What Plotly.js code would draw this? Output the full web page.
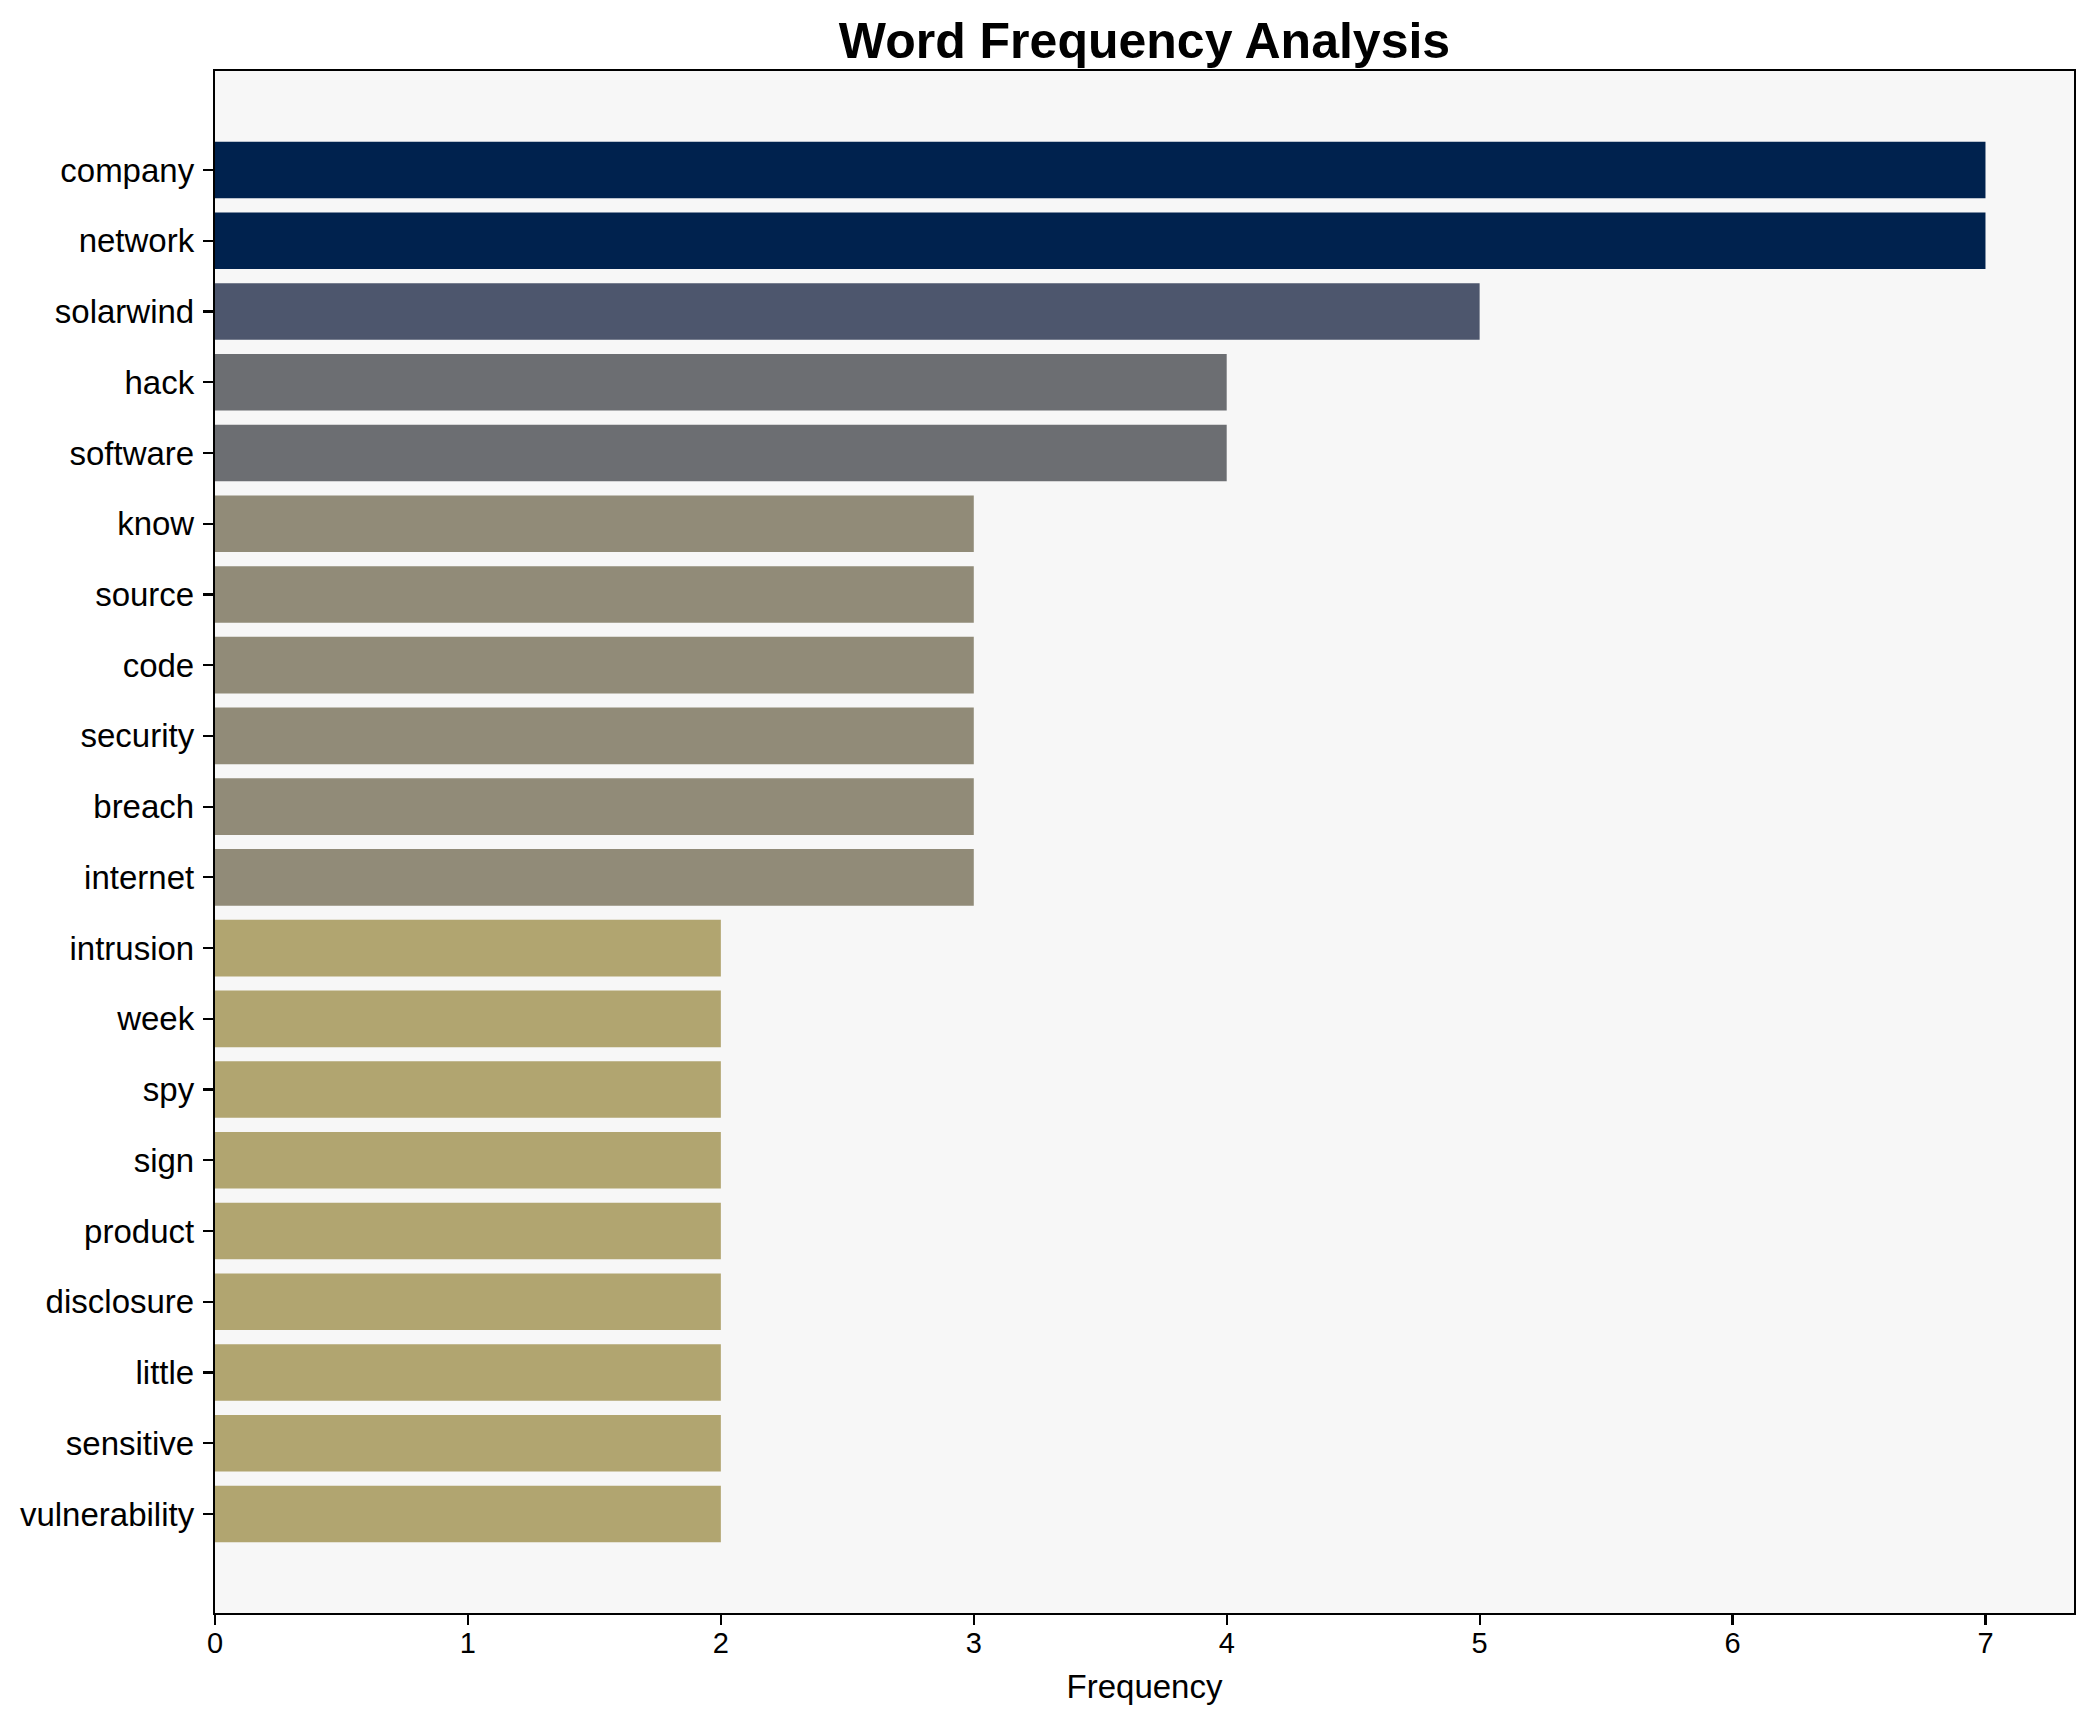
<!DOCTYPE html>
<html>
<head>
<meta charset="utf-8">
<script src="https://cdn.plot.ly/plotly-3.0.1.min.js"></script>
<style>html,body{margin:0;padding:0;background:#fff;}#chart{width:2095px;height:1722px;}</style>
</head>
<body>
<div id="chart"></div>
<script>
const words = ["company","network","solarwind","hack","software","know","source","code","security","breach","internet","intrusion","week","spy","sign","product","disclosure","little","sensitive","vulnerability"];
const frequencies = [7,7,5,4,4,3,3,3,3,3,3,2,2,2,2,2,2,2,2,2];
const colorByFrequency = {7:"#00224e",5:"#4d566d",4:"#6c6e72",3:"#918b78",2:"#b1a570"};
const xTickValues = [0,1,2,3,4,5,6,7];

const FONT = "Liberation Sans, Arial, Helvetica, sans-serif";

const trace = {
  type: "bar",
  orientation: "h",
  x: frequencies,
  y: words,
  width: 0.8,
  marker: {color: frequencies.map(f => colorByFrequency[f]), line: {width: 0}},
  hoverinfo: "x+y"
};

const layout = {
  width: 2095,
  height: 1722,
  margin: {l: 215, r: 21, t: 71, b: 109},
  paper_bgcolor: "#ffffff",
  plot_bgcolor: "#f7f7f7",
  showlegend: false,
  font: {family: FONT, color: "#000000", size: 33},
  title: {
    text: "<b>Word Frequency Analysis</b>",
    font: {family: FONT, size: 50, color: "#000000"},
    x: 0.5, xref: "paper", xanchor: "center",
    y: 1 - 40/1722, yref: "container", yanchor: "middle"
  },
  xaxis: {
    range: [0, 7.35],
    tickmode: "array",
    tickvals: xTickValues,
    ticktext: xTickValues.map(String),
    ticks: "outside", ticklen: 10, tickwidth: 2.2, tickcolor: "#000",
    ticklabelstandoff: -7,
    showline: true, linecolor: "#000", linewidth: 2.2, mirror: true,
    showgrid: false, zeroline: false,
    tickfont: {family: FONT, size: 29, color: "#000"},
    title: {text: "Frequency", font: {family: FONT, size: 33, color: "#000"}, standoff: 17}
  },
  yaxis: {
    type: "category",
    categoryorder: "array",
    categoryarray: words,
    range: [words.length - 1 + 1.4, -1.4],
    ticks: "outside", ticklen: 10, tickwidth: 2.2, tickcolor: "#000",
    ticklabelstandoff: 2,
    showline: true, linecolor: "#000", linewidth: 2.2, mirror: true,
    showgrid: false, zeroline: false,
    tickfont: {family: FONT, size: 33, color: "#000"}
  }
};

Plotly.newPlot("chart", [trace], layout, {displayModeBar: false, staticPlot: true});
</script>
</body>
</html>
